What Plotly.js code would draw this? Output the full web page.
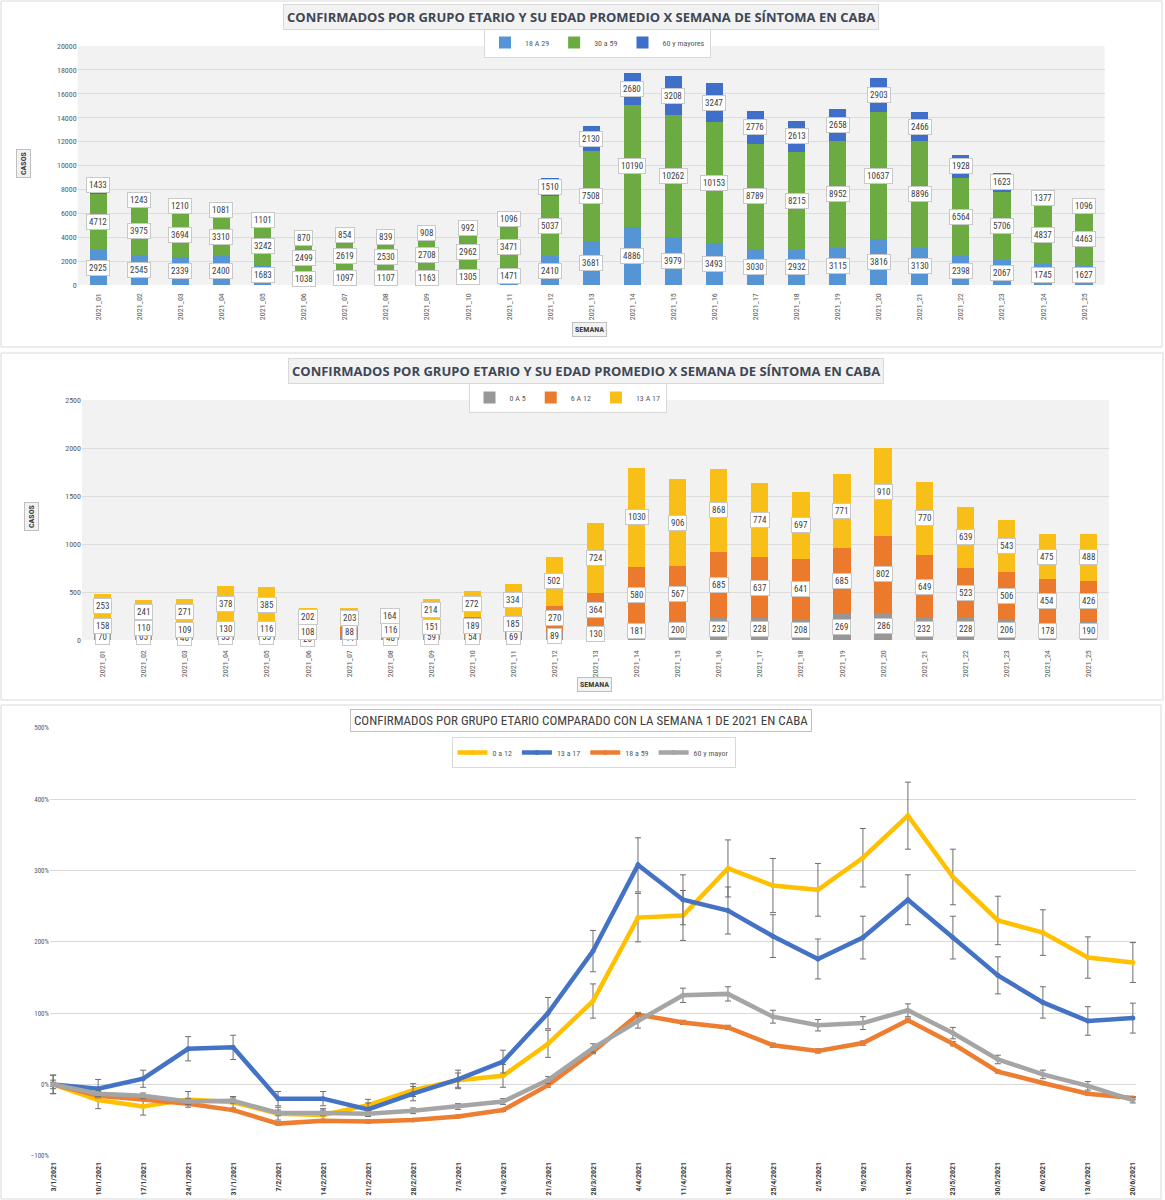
<!DOCTYPE html>
<html>
<head>
<meta charset="utf-8">
<script src="https://cdn.plot.ly/plotly-3.0.1.min.js"></script>
<style>html,body{margin:0;padding:0;background:#fff;}#chart{width:1165px;height:1200px;}</style>
</head>
<body>
<div id="chart"></div>
<script>
// ---------- DATA ----------
const weeks = ['2021_01','2021_02','2021_03','2021_04','2021_05','2021_06','2021_07','2021_08','2021_09','2021_10','2021_11','2021_12','2021_13','2021_14','2021_15','2021_16','2021_17','2021_18','2021_19','2021_20','2021_21','2021_22','2021_23','2021_24','2021_25'];

const g18a29 = [2925,2545,2339,2400,1683,1038,1097,1107,1163,1305,1471,2410,3681,4886,3979,3493,3030,2932,3115,3816,3130,2398,2067,1745,1627];
const g30a59 = [4712,3975,3694,3310,3242,2499,2619,2530,2708,2962,3471,5037,7508,10190,10262,10153,8789,8215,8952,10637,8896,6564,5706,4837,4463];
const g60ymas = [1433,1243,1210,1081,1101,870,854,839,908,992,1096,1510,2130,2680,3208,3247,2776,2613,2658,2903,2466,1928,1623,1377,1096];

const g0a5 = [70,65,46,53,55,26,44,48,59,54,69,89,130,181,200,232,228,208,269,286,232,228,206,178,190];
const g6a12 = [158,110,109,130,116,108,88,116,151,189,185,270,364,580,567,685,637,641,685,802,649,523,506,454,426];
const g13a17 = [253,241,271,378,385,202,203,164,214,272,334,502,724,1030,906,868,774,697,771,910,770,639,543,475,488];

const dates = ['3/1/2021','10/1/2021','17/1/2021','24/1/2021','31/1/2021','7/2/2021','14/2/2021','21/2/2021','28/2/2021','7/3/2021','14/3/2021','21/3/2021','28/3/2021','4/4/2021','11/4/2021','18/4/2021','25/4/2021','2/5/2021','9/5/2021','16/5/2021','23/5/2021','30/5/2021','6/6/2021','13/6/2021','20/6/2021'];
const pct0a12  = [0,-22,-31,-21,-25,-41,-43,-29,-8,6,12,57,117,234,237,303,279,273,318,377,291,230,213,178,171];
const pct13a17 = [0,-6,8,50,52,-20,-20,-35,-13,7,32,100,187,308,259,244,208,176,206,259,206,153,115,89,93];
const pct18a59 = [0,-16,-21,-27,-36,-55,-51,-52,-50,-45,-36,-1,46,98,87,80,55,47,58,90,57,18,2,-13,-19];
const pct60 =    [0,-13,-16,-24,-23,-40,-40,-41,-37,-31,-24,6,51,89,125,127,95,83,86,104,72,35,14,-2,-22];
const err0a12  = [13,12,12,11,8,9,9,8,9,10,16,19,24,34,35,40,38,37,41,47,39,34,32,29,28];
const err13a17 = [13,13,12,17,17,10,10,9,10,13,16,22,29,38,35,33,30,28,30,35,30,26,22,20,21];
const err18a59 = [3,2,2,2,2,2,2,2,2,2,2,3,3,3,3,3,3,3,3,3,3,2,2,2,2];
const err60 =    [6,4,4,4,4,4,4,4,4,4,4,5,6,10,10,10,9,8,9,9,8,6,6,6,4];

// ---------- HELPERS ----------
const W = 1165, H = 1200;
const px = x => x / W;
const py = y => 1 - y / H;
const FONT = 'Open Sans, Roboto, sans-serif';
const NARROW = 'Liberation Sans Narrow, Roboto Condensed, Roboto, sans-serif';

function stackLabels(xs, seriesList, xref, yref, out) {
  const base = xs.map(() => 0);
  seriesList.forEach(s => {
    s.forEach((v, i) => {
      out.push({
        x: xs[i], y: base[i] + v / 2, xref: xref, yref: yref,
        text: String(v), showarrow: false,
        bgcolor: '#FFFFFF', bordercolor: '#C8C8C8', borderwidth: 1, borderpad: 2,
        font: {size: 9, color: '#404040', family: NARROW}
      });
      base[i] += v;
    });
  });
}

// ---------- TRACES ----------
const traces = [
  {type:'bar', name:'18 A 29', x:weeks, y:g18a29, xaxis:'x', yaxis:'y', legend:'legend', marker:{color:'#5595D6'}},
  {type:'bar', name:'30 a 59', x:weeks, y:g30a59, xaxis:'x', yaxis:'y', legend:'legend', marker:{color:'#6CAB42'}},
  {type:'bar', name:'60 y mayores', x:weeks, y:g60ymas, xaxis:'x', yaxis:'y', legend:'legend', marker:{color:'#3F6FC8'}},

  {type:'bar', name:'0 A 5', x:weeks, y:g0a5, xaxis:'x2', yaxis:'y2', legend:'legend2', marker:{color:'#979797'}},
  {type:'bar', name:'6 A 12', x:weeks, y:g6a12, xaxis:'x2', yaxis:'y2', legend:'legend2', marker:{color:'#EC7A2C'}},
  {type:'bar', name:'13 A 17', x:weeks, y:g13a17, xaxis:'x2', yaxis:'y2', legend:'legend2', marker:{color:'#F7BF17'}},

  {type:'scatter', mode:'lines+markers', name:'0 a 12', x:dates, y:pct0a12, xaxis:'x3', yaxis:'y3', legend:'legend3',
   line:{color:'#FFC000', width:4.5}, marker:{color:'#FFC000', size:5},
   error_y:{type:'data', array:err0a12, visible:true, color:'#6E6E6E', thickness:1, width:3}},
  {type:'scatter', mode:'lines+markers', name:'13 a 17', x:dates, y:pct13a17, xaxis:'x3', yaxis:'y3', legend:'legend3',
   line:{color:'#4472C4', width:4.5}, marker:{color:'#4472C4', size:5},
   error_y:{type:'data', array:err13a17, visible:true, color:'#6E6E6E', thickness:1, width:3}},
  {type:'scatter', mode:'lines+markers', name:'18 a 59', x:dates, y:pct18a59, xaxis:'x3', yaxis:'y3', legend:'legend3',
   line:{color:'#ED7D31', width:4.5}, marker:{color:'#ED7D31', size:5},
   error_y:{type:'data', array:err18a59, visible:true, color:'#6E6E6E', thickness:1, width:3}},
  {type:'scatter', mode:'lines+markers', name:'60 y mayor', x:dates, y:pct60, xaxis:'x3', yaxis:'y3', legend:'legend3',
   line:{color:'#A5A5A5', width:4.5}, marker:{color:'#A5A5A5', size:5},
   error_y:{type:'data', array:err60, visible:true, color:'#6E6E6E', thickness:1, width:3}}
];

// ---------- ANNOTATIONS ----------
const ann = [];
stackLabels(weeks, [g18a29, g30a59, g60ymas], 'x', 'y', ann);
stackLabels(weeks, [g0a5, g6a12, g13a17], 'x2', 'y2', ann);

function boxText(text, xpx, ypx, opts) {
  return Object.assign({
    x: px(xpx), y: py(ypx), xref:'paper', yref:'paper', text: text, showarrow:false,
    xanchor:'center', yanchor:'middle'
  }, opts);
}
const titleTxt = '<b>CONFIRMADOS POR GRUPO ETARIO Y SU EDAD PROMEDIO X SEMANA DE SÍNTOMA EN CABA</b>';
ann.push(boxText(titleTxt, 581, 16.5, {bgcolor:'#F2F2F2', bordercolor:'#D9D9D9', borderwidth:1, borderpad:3,
  font:{size:13, color:'#3E4756', family:FONT}}));
ann.push(boxText(titleTxt, 585.5, 370.5, {bgcolor:'#F2F2F2', bordercolor:'#D9D9D9', borderwidth:1, borderpad:3,
  font:{size:13, color:'#3E4756', family:FONT}}));
ann.push(boxText('CONFIRMADOS POR GRUPO ETARIO COMPARADO CON LA SEMANA 1 DE 2021 EN CABA', 581, 720.5,
  {bgcolor:'#FFFFFF', bordercolor:'#BFBFBF', borderwidth:1, borderpad:3, font:{size:13, color:'#404040', family:NARROW}}));

ann.push(boxText('<b>CASOS</b>', 23.5, 163.5, {textangle:-90, bgcolor:'#F2F2F2', bordercolor:'#BFBFBF', borderwidth:1, borderpad:2,
  font:{size:8, color:'#404040', family:NARROW}}));
ann.push(boxText('<b>CASOS</b>', 31, 517, {textangle:-90, bgcolor:'#F2F2F2', bordercolor:'#BFBFBF', borderwidth:1, borderpad:2,
  font:{size:8, color:'#404040', family:NARROW}}));
ann.push(boxText('<b>SEMANA</b>', 589, 329.5, {bgcolor:'#F2F2F2', bordercolor:'#BFBFBF', borderwidth:1, borderpad:2,
  font:{size:8, color:'#404040', family:NARROW}}));
ann.push(boxText('<b>SEMANA</b>', 594, 684.5, {bgcolor:'#F2F2F2', bordercolor:'#BFBFBF', borderwidth:1, borderpad:2,
  font:{size:8, color:'#404040', family:NARROW}}));

// ---------- SHAPES ----------
const shapes = [
  {type:'rect', xref:'x domain', yref:'y domain', x0:0, x1:1, y0:0, y1:1, fillcolor:'#F2F2F2', line:{width:0}, layer:'below'},
  {type:'rect', xref:'x2 domain', yref:'y2 domain', x0:0, x1:1, y0:0, y1:1, fillcolor:'#F2F2F2', line:{width:0}, layer:'below'},
  {type:'rect', xref:'paper', yref:'paper', x0:px(1), x1:px(1162), y0:py(1), y1:py(347), line:{color:'#D9D9D9', width:1}, layer:'below'},
  {type:'rect', xref:'paper', yref:'paper', x0:px(1), x1:px(1163), y0:py(353), y1:py(700), line:{color:'#D9D9D9', width:1}, layer:'below'},
  {type:'rect', xref:'paper', yref:'paper', x0:px(1), x1:px(1161), y0:py(705), y1:py(1199), line:{color:'#D9D9D9', width:1}, layer:'below'}
];

// ---------- LAYOUT ----------
const tickFont = {size:8, color:'#595959', family:NARROW};
const legendBase = {orientation:'h', xanchor:'center', yanchor:'top', bgcolor:'#FFFFFF', bordercolor:'#D9D9D9', borderwidth:1,
  font:{size:8, color:'#595959', family:NARROW}, itemwidth:30, tracegroupgap:0, traceorder:'normal'};
const hidTicks = {ticks:'outside', ticklen:5, tickcolor:'rgba(0,0,0,0)'};

const layout = {
  width: W, height: H,
  margin: {l:0, r:0, t:0, b:0},
  paper_bgcolor: '#FFFFFF',
  plot_bgcolor: 'rgba(0,0,0,0)',
  barmode: 'stack',
  bargap: 0.58,
  showlegend: true,
  font: {family: FONT},
  xaxis: Object.assign({domain:[px(77.7), px(1104.6)], anchor:'y', type:'category', tickangle:-90, tickfont:tickFont,
          showgrid:false, showline:false}, hidTicks, {ticklen:4}),
  yaxis: {domain:[py(285), py(46)], anchor:'x', range:[0,20000], dtick:2000, tickformat:'d', tickfont:tickFont,
          gridcolor:'#DCDCDC', gridwidth:1, zeroline:false, showline:false, ticks:''},
  xaxis2: Object.assign({domain:[px(82), px(1109)], anchor:'y2', type:'category', tickangle:-90, tickfont:tickFont,
          showgrid:false, showline:false}, hidTicks, {ticklen:6}),
  yaxis2: {domain:[py(640), py(400)], anchor:'x2', range:[0,2500], dtick:500, tickformat:'d', tickfont:tickFont,
          gridcolor:'#DCDCDC', gridwidth:1, zeroline:false, showline:false, ticks:''},
  xaxis3: Object.assign({domain:[px(50), px(1136)], anchor:'y3', type:'category', range:[-0.07, 24.07], tickangle:-90,
          tickfont:{size:8, color:'#404040', family:NARROW, weight:'bold'}, showgrid:false, showline:false}, hidTicks, {ticklen:2}),
  yaxis3: {domain:[py(1155.7), py(728)], anchor:'x3', range:[-100,500], dtick:100, ticksuffix:'%',
          tickfont:{size:7, color:'#595959', family:NARROW}, gridcolor:'#D9D9D9', gridwidth:1,
          zeroline:false, showline:false, ticks:''},
  legend: Object.assign({}, legendBase, {x:px(597.5), y:py(27)}),
  legend2: Object.assign({}, legendBase, {x:px(567.5), y:py(382)}),
  legend3: Object.assign({}, legendBase, {x:px(593.5), y:py(737)}),
  annotations: ann,
  shapes: shapes
};

Plotly.newPlot('chart', traces, layout, {displayModeBar:false, staticPlot:true});
</script>
</body>
</html>
